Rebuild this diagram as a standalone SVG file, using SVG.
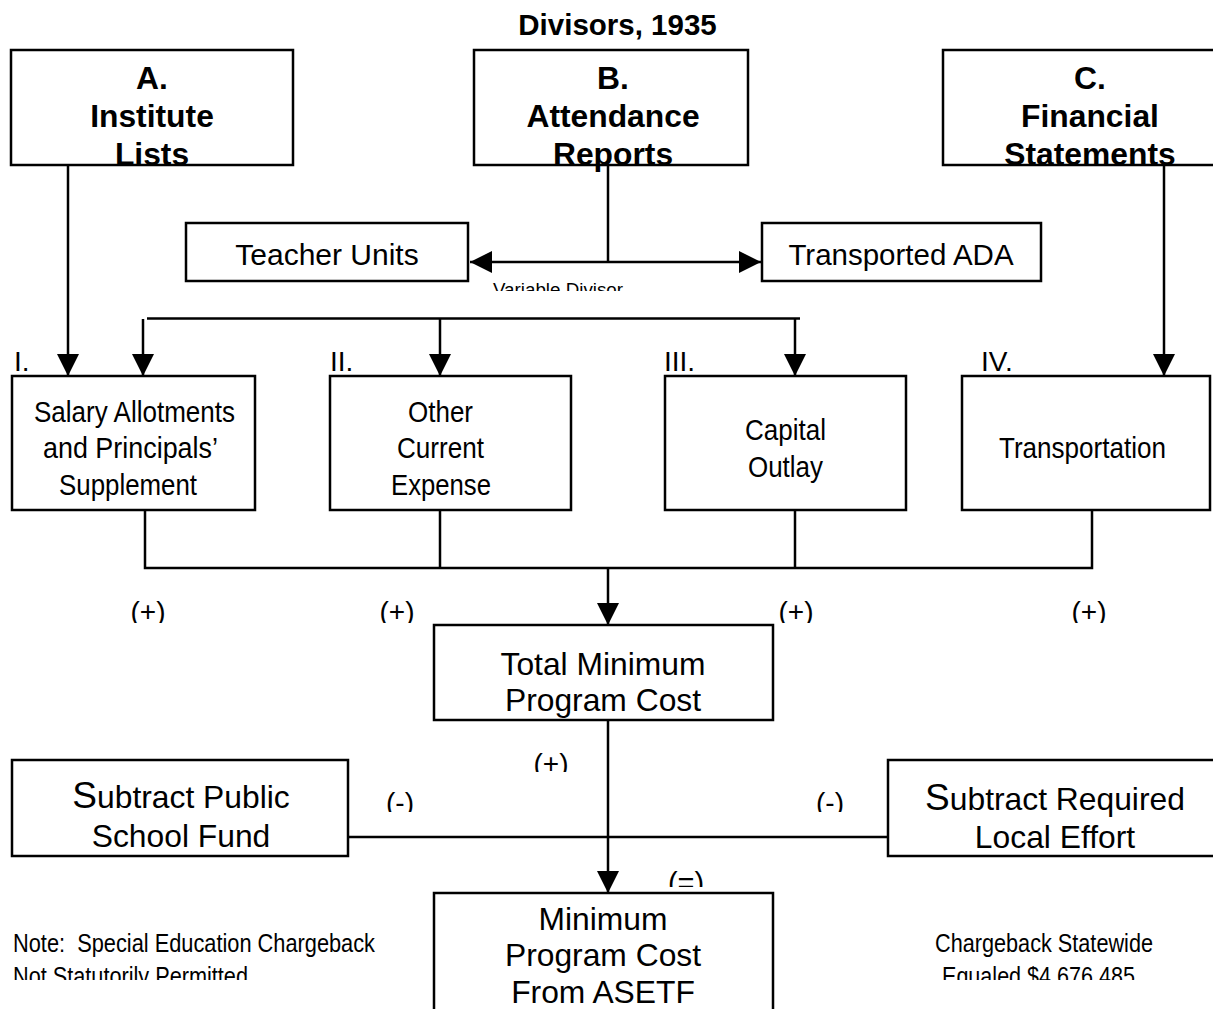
<svg xmlns="http://www.w3.org/2000/svg" width="1213" height="1009" viewBox="0 0 1213 1009">
<style>
.box{fill:#fff;stroke:#000;stroke-width:2.5}
.ln{fill:none;stroke:#000;stroke-width:2.5}
.hd{font-family:"Liberation Sans",Arial,sans-serif;font-weight:bold;font-size:31.8px;text-anchor:middle;fill:#000}
.rg{font-family:"Liberation Sans",Arial,sans-serif;font-size:31.8px;text-anchor:middle;fill:#000}
.nw{font-family:"Liberation Sans Narrow","Arial Narrow","Liberation Sans",sans-serif;font-size:30px;fill:#000}
.nt{font-family:"Liberation Sans Narrow","Arial Narrow","Liberation Sans",sans-serif;font-size:26px;fill:#000}
.op{font-family:"Liberation Sans",Arial,sans-serif;font-size:28px;text-anchor:middle;fill:#000}
</style>
<defs>
<marker id="ah" markerUnits="userSpaceOnUse" markerWidth="22" markerHeight="22" refX="22" refY="11" orient="auto-start-reverse" viewBox="0 0 22 22">
<path d="M0,0 L22,11 L0,22 Z" fill="#000"/>
</marker>
<clipPath id="cVar"><rect x="480" y="270" width="160" height="21"/></clipPath>
<clipPath id="cPlusRow"><rect x="0" y="580" width="1213" height="43"/></clipPath>
<clipPath id="cPlus2"><rect x="520" y="730" width="70" height="42"/></clipPath>
<clipPath id="cMinus"><rect x="360" y="770" width="520" height="42"/></clipPath>
<clipPath id="cEq"><rect x="650" y="855" width="80" height="32"/></clipPath>
<clipPath id="cNote"><rect x="0" y="955" width="1213" height="25"/></clipPath>
<clipPath id="cRom"><rect x="0" y="340" width="1213" height="33"/></clipPath>
</defs>
<rect width="1213" height="1009" fill="#fff"/>

<text x="617.5" y="35" class="hd" style="font-size:29.5px">Divisors, 1935</text>

<g id="connectors">
<line class="ln" x1="68" y1="165" x2="68" y2="376" marker-end="url(#ah)"/>
<line class="ln" x1="608" y1="165" x2="608" y2="262"/>
<line class="ln" x1="470" y1="262" x2="761" y2="262" marker-start="url(#ah)" marker-end="url(#ah)"/>
<line class="ln" x1="1164" y1="165" x2="1164" y2="376" marker-end="url(#ah)"/>
<line class="ln" x1="147" y1="318.5" x2="800" y2="318.5"/>
<line class="ln" x1="143" y1="319" x2="143" y2="376" marker-end="url(#ah)"/>
<line class="ln" x1="440" y1="318" x2="440" y2="376" marker-end="url(#ah)"/>
<line class="ln" x1="795" y1="318" x2="795" y2="376" marker-end="url(#ah)"/>
<polyline class="ln" points="145,510 145,568 1092,568 1092,510"/>
<line class="ln" x1="440" y1="510" x2="440" y2="568"/>
<line class="ln" x1="795" y1="510" x2="795" y2="568"/>
<line class="ln" x1="608" y1="568" x2="608" y2="625" marker-end="url(#ah)"/>
<line class="ln" x1="608" y1="720" x2="608" y2="893" marker-end="url(#ah)"/>
<line class="ln" x1="348" y1="837" x2="888" y2="837"/>
<text x="493" y="295.5" clip-path="url(#cVar)" style="font-family:'Liberation Sans',Arial,sans-serif;font-size:18px" textLength="130" lengthAdjust="spacingAndGlyphs">Variable Divisor</text>
<g clip-path="url(#cPlusRow)">
<text class="op" x="148" y="621">(+)</text>
<text class="op" x="397" y="621">(+)</text>
<text class="op" x="796" y="621">(+)</text>
<text class="op" x="1089" y="621">(+)</text>
</g>
<text class="op" x="551" y="773" clip-path="url(#cPlus2)">(+)</text>
<g clip-path="url(#cMinus)">
<text class="op" x="400" y="812">(-)</text>
<text class="op" x="830" y="812">(-)</text>
</g>
<text class="op" x="686" y="893" clip-path="url(#cEq)" style="font-size:29px">(=)</text>
</g>

<g id="nodeA">
<rect class="box" x="11" y="50" width="282" height="115"/>
<text class="hd" x="152" y="89">A.</text>
<text class="hd" x="152" y="127">Institute</text>
<text class="hd" x="152" y="165">Lists</text>
</g>
<g id="nodeB">
<rect class="box" x="474" y="50" width="274" height="115"/>
<text class="hd" x="613" y="89">B.</text>
<text class="hd" x="613" y="127">Attendance</text>
<text class="hd" x="613" y="165">Reports</text>
</g>
<g id="nodeC">
<rect class="box" x="943" y="50" width="290" height="115"/>
<text class="hd" x="1090" y="89">C.</text>
<text class="hd" x="1090" y="127">Financial</text>
<text class="hd" x="1090" y="165">Statements</text>
</g>
<g id="teacherUnits">
<rect class="box" x="186" y="223" width="282" height="58"/>
<text class="rg" x="327" y="265" style="font-size:30px">Teacher Units</text>
</g>
<g id="transportedADA">
<rect class="box" x="762" y="223" width="279" height="58"/>
<text class="rg" x="901" y="265" style="font-size:29.5px">Transported ADA</text>
</g>

<g id="romans" clip-path="url(#cRom)">
<text class="nw" x="14" y="371" style="font-size:28px">I.</text>
<text class="nw" x="330" y="371" style="font-size:28px">II.</text>
<text class="nw" x="664" y="371" style="font-size:28px">III.</text>
<text class="nw" x="981" y="371" style="font-size:28px">IV.</text>
</g>

<g id="nodeI">
<rect class="box" x="12" y="376" width="243" height="134"/>
<text class="nw" x="34" y="422" textLength="201" lengthAdjust="spacingAndGlyphs">Salary Allotments</text>
<text class="nw" x="43" y="458" textLength="175" lengthAdjust="spacingAndGlyphs">and Principals’</text>
<text class="nw" x="59" y="495" textLength="138" lengthAdjust="spacingAndGlyphs">Supplement</text>
</g>
<g id="nodeII">
<rect class="box" x="330" y="376" width="241" height="134"/>
<text class="nw" x="408" y="422" textLength="65" lengthAdjust="spacingAndGlyphs">Other</text>
<text class="nw" x="397" y="458" textLength="87" lengthAdjust="spacingAndGlyphs">Current</text>
<text class="nw" x="391" y="495" textLength="100" lengthAdjust="spacingAndGlyphs">Expense</text>
</g>
<g id="nodeIII">
<rect class="box" x="665" y="376" width="241" height="134"/>
<text class="nw" x="745" y="440" textLength="81" lengthAdjust="spacingAndGlyphs">Capital</text>
<text class="nw" x="748" y="477" textLength="75" lengthAdjust="spacingAndGlyphs">Outlay</text>
</g>
<g id="nodeIV">
<rect class="box" x="962" y="376" width="248" height="134"/>
<text class="nw" x="999" y="458" textLength="167" lengthAdjust="spacingAndGlyphs">Transportation</text>
</g>

<g id="totalCost">
<rect class="box" x="434" y="625" width="339" height="95"/>
<text class="rg" x="603" y="675">Total Minimum</text>
<text class="rg" x="603" y="711">Program Cost</text>
</g>
<g id="publicSchoolFund">
<rect class="box" x="12" y="760" width="336" height="96"/>
<text class="rg" x="181" y="808"><tspan style="font-size:37px">S</tspan>ubtract Public</text>
<text class="rg" x="181" y="847">School Fund</text>
</g>
<g id="localEffort">
<rect class="box" x="888" y="760" width="340" height="96"/>
<text class="rg" x="1055" y="810"><tspan style="font-size:37px">S</tspan>ubtract Required</text>
<text class="rg" x="1055" y="848">Local Effort</text>
</g>
<g id="minimumCost">
<rect class="box" x="434" y="893" width="339" height="130"/>
<text class="rg" x="603" y="930">Minimum</text>
<text class="rg" x="603" y="966">Program Cost</text>
<text class="rg" x="603" y="1003">From ASETF</text>
</g>

<g id="notes">
<text class="nt" x="13" y="952" xml:space="preserve" textLength="362" lengthAdjust="spacingAndGlyphs">Note:  Special Education Chargeback</text>
<text class="nt" x="13" y="985" clip-path="url(#cNote)" textLength="235" lengthAdjust="spacingAndGlyphs">Not Statutorily Permitted</text>
<text class="nt" x="935" y="952" textLength="218" lengthAdjust="spacingAndGlyphs">Chargeback Statewide</text>
<text class="nt" x="942" y="985" clip-path="url(#cNote)" textLength="193" lengthAdjust="spacingAndGlyphs">Equaled $4,676,485</text>
</g>
</svg>
